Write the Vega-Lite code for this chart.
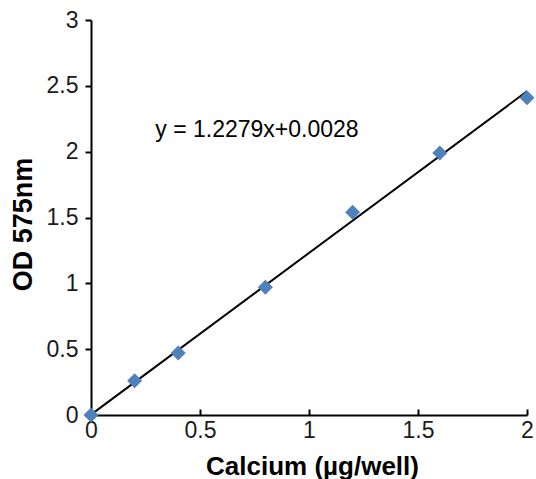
{
  "$schema": "https://vega.github.io/schema/vega-lite/v6.json",
  "autosize": "none",
  "width": 436,
  "height": 395,
  "padding": {"left": 91, "top": 20, "right": 9, "bottom": 64},
  "background": "white",
  "config": {
    "view": {"stroke": null},
    "font": "Liberation Sans",
    "axis": {"grid": false, "domainColor": "black", "domainWidth": 2, "tickColor": "black", "tickWidth": 2, "labelFont": "Liberation Sans", "labelFontSize": 23, "labelColor": "#1a1a1a", "titleFont": "Liberation Sans", "titleFontSize": 26, "titleFontWeight": "bold", "titleColor": "black"}
  },
  "datasets": {
    "pts": [
      {"calcium": 0, "od": 0},
      {"calcium": 0.2, "od": 0.26},
      {"calcium": 0.4, "od": 0.47},
      {"calcium": 0.8, "od": 0.97},
      {"calcium": 1.2, "od": 1.54},
      {"calcium": 1.6, "od": 1.99},
      {"calcium": 2, "od": 2.41}
    ],
    "fit": [
      {"calcium": 0, "od": 0.0028},
      {"calcium": 2, "od": 2.4586}
    ],
    "label": [
      {"calcium": 0.295, "od": 2.165, "text": "y = 1.2279x+0.0028"}
    ]
  },
  "layer": [
    {
      "data": {"name": "fit"},
      "mark": {"type": "line", "color": "black", "strokeWidth": 2, "clip": false},
      "encoding": {
        "x": {"field": "calcium", "type": "quantitative", "scale": {"domain": [0, 2], "nice": false}, "axis": {"title": "Calcium (µg/well)", "values": [0, 0.5, 1, 1.5, 2], "format": "~g", "tickSize": -6, "labelPadding": 10, "titlePadding": 11, "titleX": 221, "labelFlush": false}},
        "y": {"field": "od", "type": "quantitative", "scale": {"domain": [0, 3], "nice": false}, "axis": {"title": "OD 575nm", "titleFontSize": 27, "titleY": 204, "values": [0, 0.5, 1, 1.5, 2, 2.5, 3], "format": "~g", "tickSize": 6, "labelPadding": 7, "titlePadding": 9, "labelFlush": false}}
      }
    },
    {
      "data": {"name": "pts"},
      "mark": {"type": "point", "shape": "diamond", "filled": true, "color": "#4F81BD", "size": 225, "opacity": 1, "clip": false},
      "encoding": {
        "x": {"field": "calcium", "type": "quantitative"},
        "y": {"field": "od", "type": "quantitative"}
      }
    },
    {
      "data": {"name": "label"},
      "mark": {"type": "text", "align": "left", "baseline": "middle", "fontSize": 23, "font": "Liberation Sans", "color": "black"},
      "encoding": {
        "x": {"field": "calcium", "type": "quantitative"},
        "y": {"field": "od", "type": "quantitative"},
        "text": {"field": "text"}
      }
    }
  ]
}
